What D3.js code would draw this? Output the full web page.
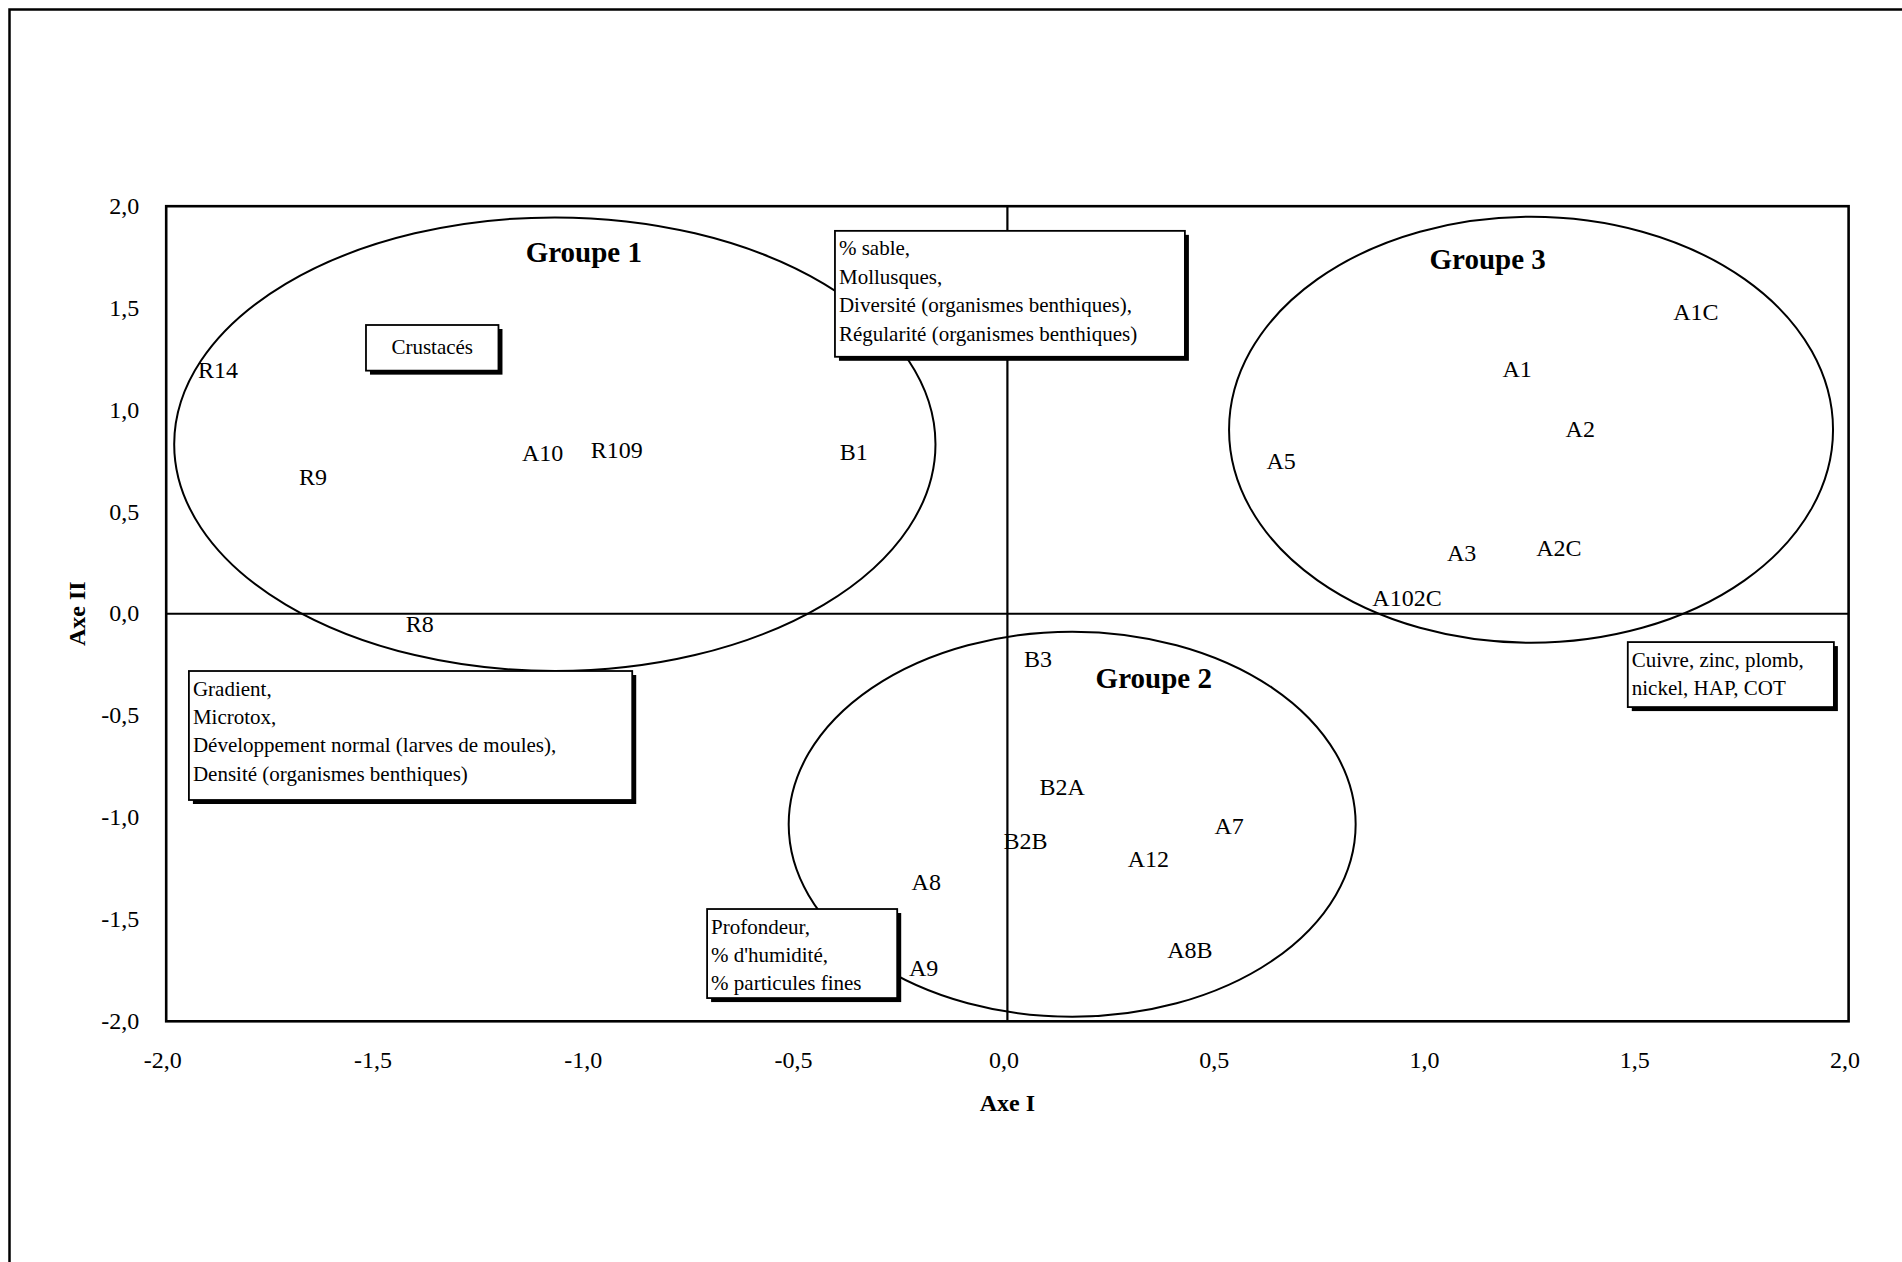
<!DOCTYPE html>
<html>
<head>
<meta charset="utf-8">
<script src="https://cdn.jsdelivr.net/npm/d3@7"></script>
<style>
  html, body { margin: 0; padding: 0; background: #fff; }
  svg { display: block; font-family: "Liberation Serif", "Times New Roman", serif; }
</style>
</head>
<body>
<svg id="chart" width="1902" height="1262"></svg>
<script>
// ---------------- data ----------------
const xTicks = [-2, -1.5, -1, -0.5, 0, 0.5, 1, 1.5, 2];
const yTicks = [-2, -1.5, -1, -0.5, 0, 0.5, 1, 1.5, 2];

// station labels (Axe I, Axe II)
const stationNames = ["R14", "R9", "A10", "R109", "B1", "R8",
  "A1C", "A1", "A2", "A5", "A3", "A2C", "A102C",
  "B3", "B2A", "B2B", "A12", "A7", "A8", "A8B", "A9"];
const axeI  = [-1.877, -1.651, -1.105, -0.929, -0.365, -1.397,
  1.637, 1.212, 1.362, 0.651, 1.080, 1.311, 0.950,
  0.073, 0.130, 0.043, 0.335, 0.527, -0.193, 0.434, -0.199];
const axeII = [1.188, 0.659, 0.777, 0.792, 0.785, -0.062,
  1.472, 1.190, 0.895, 0.740, 0.288, 0.313, 0.067,
  -0.233, -0.862, -1.124, -1.211, -1.051, -1.325, -1.660, -1.747];

// groups: ellipse centre / radii in axis units, and title anchor
const groupNames = ["Groupe 1", "Groupe 2", "Groupe 3"];
const groupCx = [-1.076, 0.154, 1.245];
const groupCy = [0.832, -1.033, 0.903];
const groupRx = [0.905, 0.674, 0.718];
const groupRy = [1.113, 0.945, 1.045];
const groupTitleX = [-1.007, 0.348, 1.142];
const groupTitleY = [1.773, -0.317, 1.740];

// variable annotation boxes (corners in axis units)
const boxLines = [
  ["Crustacés"],
  ["% sable,", "Mollusques,", "Diversité (organismes benthiques),", "Régularité (organismes benthiques)"],
  ["Gradient,", "Microtox,", "Développement normal (larves de moules),", "Densité (organismes benthiques)"],
  ["Profondeur,", "% d'humidité,", "% particules fines"],
  ["Cuivre, zinc, plomb,", "nickel, HAP, COT"]
];
const boxX0 = [-1.525, -0.410, -1.946, -0.714, 1.475];
const boxY0 = [1.417, 1.879, -0.281, -1.449, -0.139];
const boxX1 = [-1.210, 0.422, -0.892, -0.262, 1.965];
const boxY1 = [1.193, 1.261, -0.914, -1.886, -0.458];

// ---------------- drawing ----------------
const svg = d3.select("#chart");
const pL = 166.2, pR = 1848.6, pT = 206.2, pB = 1021.3;
const x = d3.scaleLinear().domain([-2, 2]).range([pL, pR]);
const y = d3.scaleLinear().domain([-2, 2]).range([pB, pT]);
const fmt = d => d.toFixed(1).replace(".", ",");

// outer frame (extends beyond the viewport on right/bottom)
svg.append("rect").attr("x", 9.5).attr("y", 9.5).attr("width", 3000).attr("height", 3000)
  .attr("fill", "none").attr("stroke", "#000").attr("stroke-width", 2.5);

// plot border
svg.append("rect").attr("x", pL).attr("y", pT).attr("width", pR - pL).attr("height", pB - pT)
  .attr("fill", "#fff").attr("stroke", "#000").attr("stroke-width", 2.6);

// zero lines
svg.append("line").attr("x1", x(-2)).attr("x2", x(2)).attr("y1", y(0)).attr("y2", y(0))
  .attr("stroke", "#000").attr("stroke-width", 2.2);
svg.append("line").attr("x1", x(0)).attr("x2", x(0)).attr("y1", y(2)).attr("y2", y(-2))
  .attr("stroke", "#000").attr("stroke-width", 2.2);

// axes
const xAxis = d3.axisBottom(x).tickValues(xTicks).tickFormat(fmt).tickSize(0).tickPadding(30);
const gx = svg.append("g").attr("transform", `translate(0,${pB})`).call(xAxis);
gx.select(".domain").remove();
gx.selectAll("text").attr("font-family", "Liberation Serif").attr("font-size", 24).attr("fill", "#000").attr("dx", -4);

const yAxis = d3.axisLeft(y).tickValues(yTicks).tickFormat(fmt).tickSize(0).tickPadding(27);
const gy = svg.append("g").attr("transform", `translate(${pL},0)`).call(yAxis);
gy.select(".domain").remove();
gy.selectAll("text").attr("font-family", "Liberation Serif").attr("font-size", 24).attr("fill", "#000").attr("dy", "0.30em");

// axis titles
svg.append("text").attr("x", x(0)).attr("y", 1111).attr("text-anchor", "middle")
  .attr("font-size", 24).attr("font-weight", "bold").text("Axe I");
svg.append("text").attr("transform", `translate(85,${y(0)}) rotate(-90)`).attr("text-anchor", "middle")
  .attr("font-size", 24).attr("font-weight", "bold").text("Axe II");

// ellipses
svg.append("g").selectAll("ellipse").data(groupNames).join("ellipse")
  .attr("cx", (d, i) => x(groupCx[i]))
  .attr("cy", (d, i) => y(groupCy[i]))
  .attr("rx", (d, i) => x(groupCx[i] + groupRx[i]) - x(groupCx[i]))
  .attr("ry", (d, i) => y(groupCy[i] - groupRy[i]) - y(groupCy[i]))
  .attr("fill", "none").attr("stroke", "#000").attr("stroke-width", 2);

// annotation boxes with shadow
const boxes = svg.append("g").selectAll("g").data(boxLines).join("g");
boxes.append("rect")
  .attr("x", (d, i) => x(boxX0[i]) + 4).attr("y", (d, i) => y(boxY0[i]) + 4)
  .attr("width", (d, i) => x(boxX1[i]) - x(boxX0[i]))
  .attr("height", (d, i) => y(boxY1[i]) - y(boxY0[i]))
  .attr("fill", "#000");
boxes.append("rect")
  .attr("x", (d, i) => x(boxX0[i])).attr("y", (d, i) => y(boxY0[i]))
  .attr("width", (d, i) => x(boxX1[i]) - x(boxX0[i]))
  .attr("height", (d, i) => y(boxY1[i]) - y(boxY0[i]))
  .attr("fill", "#fff").attr("stroke", "#000").attr("stroke-width", 1.8);
boxes.each(function(lines, i) {
  const g = d3.select(this);
  const single = lines.length === 1;
  const x0 = x(boxX0[i]), y0 = y(boxY0[i]);
  const w = x(boxX1[i]) - x0, h = y(boxY1[i]) - y0;
  g.selectAll("text").data(lines).join("text")
    .attr("x", single ? x0 + w / 2 : x0 + 4)
    .attr("y", (t, k) => single ? y0 + h / 2 + 6 : y0 + 24.5 + k * 28.4)
    .attr("text-anchor", single ? "middle" : "start")
    .attr("font-size", 21).attr("fill", "#000")
    .text(t => t);
});

// station labels
svg.append("g").selectAll("text").data(stationNames).join("text")
  .attr("x", (d, i) => x(axeI[i]))
  .attr("y", (d, i) => y(axeII[i]) + 6)
  .attr("text-anchor", "middle")
  .attr("font-size", 24).attr("fill", "#000")
  .text(d => d);

// group titles
svg.append("g").selectAll("text").data(groupNames).join("text")
  .attr("x", (d, i) => x(groupTitleX[i]))
  .attr("y", (d, i) => y(groupTitleY[i]) + 10)
  .attr("text-anchor", "middle")
  .attr("font-size", 29).attr("font-weight", "bold").attr("fill", "#000")
  .text(d => d);
</script>
</body>
</html>
